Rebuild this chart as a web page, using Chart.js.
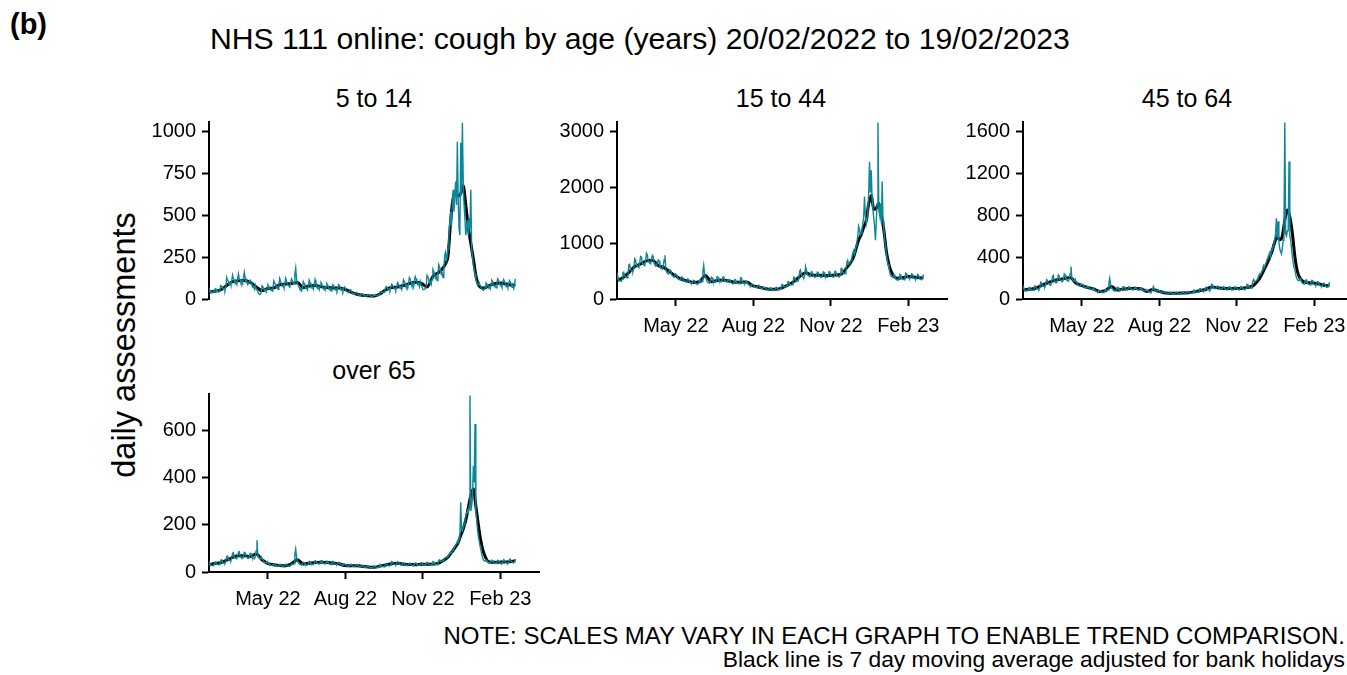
<!DOCTYPE html>
<html>
<head>
<meta charset="utf-8">
<title>NHS 111 online: cough by age</title>
<script src="https://cdn.jsdelivr.net/npm/chart.js@4.4.0/dist/chart.umd.min.js"></script>
<style>
	body { margin: 0; width: 1347px; height: 675px; overflow: hidden; background: #fff; position: relative;
		font-family: "Liberation Sans", Arial, sans-serif; color: #000; }
	.txt { position: absolute; white-space: nowrap; line-height: 1; }
	.ctr { transform: translateX(-50%); }
	canvas { position: absolute; }
</style>
</head>
<body>

<div class="txt" style="left:10px; top:10px; font-size:29px; font-weight:bold;">(b)</div>
<div class="txt" style="left:210px; top:24px; font-size:30.2px;">NHS 111 online: cough by age (years) 20/02/2022 to 19/02/2023</div>

<div class="txt ctr" style="left:374px; top:86px; font-size:25px;">5 to 14</div>
<div class="txt ctr" style="left:781px; top:86px; font-size:25px;">15 to 44</div>
<div class="txt ctr" style="left:1187px; top:86px; font-size:25px;">45 to 64</div>
<div class="txt ctr" style="left:374px; top:358px; font-size:25px;">over 65</div>

<div class="txt" style="left:124px; top:345px; font-size:32.5px; transform: translate(-50%, -50%) rotate(-90deg);">daily assessments</div>

<div class="txt" style="right:2px; top:624px; font-size:24px;">NOTE: SCALES MAY VARY IN EACH GRAPH TO ENABLE TREND COMPARISON.</div>
<div class="txt" style="right:2px; top:648px; font-size:22.8px;">Black line is 7 day moving average adjusted for bank holidays</div>

<canvas id="p1" width="420" height="217" style="left:129px; top:102px;"></canvas>
<canvas id="p2" width="420" height="237" style="left:537px; top:102px;"></canvas>
<canvas id="p3" width="420" height="237" style="left:943px; top:102px;"></canvas>
<canvas id="p4" width="420" height="238" style="left:129px; top:374px;"></canvas>

<script>
'use strict';

// x axis is days since 20/02/2022 (day 0) up to 19/02/2023 (day 364)
var monthTicks = [70, 162, 254, 346];
var monthLabels = ['May 22', 'Aug 22', 'Nov 22', 'Feb 23'];

var maDays = [0, 7, 14, 21, 28, 35, 42, 49, 56, 63, 70, 77, 84, 91, 98, 105, 112, 119, 126, 133,
	140, 147, 154, 161, 168, 175, 182, 189, 196, 203, 210, 217, 224, 231, 238, 245, 252, 259, 266, 273,
	278, 281, 284, 287, 290, 293, 296, 299, 302, 305, 308, 311, 314, 317, 320, 323, 326,
	333, 340, 347, 354, 361, 364];

// ---- 5 to 14 ----
var age5to14Daily = [
	48,52,40,44,37,38,46, 58,62,47,50,41,44,55, 80,76,70,58,62,52,74, 128,112,104,88,95,80,110,
	142,120,112,92,100,86,125, 150,118,115,96,104,90,130, 160,122,98,104,86,92,108, 112,98,86,70,74,58,82,
	60,55,45,32,26,28,40, 78,70,62,50,54,42,60, 85,76,66,54,58,48,70, 108,96,84,68,72,58,84,
	122,104,94,76,82,66,92, 124,108,92,82,76,70,98, 120,110,95,92,150,184,120, 90,84,72,60,62,50,70,
	104,92,78,62,66,54,78, 112,98,84,66,70,58,84, 115,94,80,64,70,56,80, 98,90,74,60,66,52,74,
	92,84,70,56,62,48,70, 86,80,66,54,60,48,66, 85,78,66,52,58,46,66, 72,65,48,42,40,38,48,
	55,50,37,32,30,28,36, 40,36,27,24,22,21,27, 32,28,22,19,18,17,21, 28,26,20,17,16,15,19,
	22,24,20,18,20,22,26, 40,45,40,38,40,42,48, 72,74,66,56,60,52,70, 88,84,72,60,64,54,74,
	98,90,78,64,68,56,78, 115,104,92,74,80,64,92, 128,118,102,82,90,72,104, 134,120,104,86,92,74,104,
	80,72,58,55,58,62,75, 140,130,118,96,104,88,120, 176,164,150,124,132,110,152, 205,190,172,146,154,128,180,
	260,280,230,250,300,380,450, 520,430,560,650,520,620,700, 560,936,600,420,380,930,620, 1050,700,560,480,380,420,470,
	380,480,420,650,300,250,200, 180,150,120,100,90,85,95, 80,75,60,55,52,58,70, 95,90,82,66,72,60,86,
	112,104,94,74,80,66,98, 120,110,98,80,84,70,100, 116,104,94,74,80,66,96, 110,100,88,70,76,62,92,
	120
];
var age5to14Avg = [42, 46, 55, 80, 103, 108, 110, 100, 72, 50, 62, 66, 85, 89, 92, 98, 68, 78, 80, 74,
	68, 65, 66, 58, 43, 30, 22, 19, 18, 30, 55, 68, 72, 80, 92, 100, 95, 72, 135, 158,
	185, 210, 260, 460, 600, 625, 615, 625, 675, 560, 430, 330, 240, 140, 85, 68, 65,
	80, 92, 95, 88, 83, 85];
var age5to14Ticks = [0, 250, 500, 750, 1000];

// ---- 15 to 44 ----
var age15to44Daily = [
	360,400,340,330,320,315,350, 470,480,410,400,385,380,420, 610,620,530,510,495,490,550, 720,700,610,590,570,560,640,
	760,750,650,620,605,600,680, 820,790,680,660,640,630,720, 780,760,640,610,600,590,650, 700,680,580,550,540,530,600,
	700,780,520,480,460,450,500, 520,500,430,410,400,390,430, 440,430,370,355,345,340,375, 395,385,335,320,310,305,340,
	360,350,305,290,285,280,310, 335,330,285,275,265,262,290, 330,340,300,310,480,600,450, 380,360,310,300,290,285,320,
	390,380,320,310,300,295,330, 400,390,335,320,310,305,345, 395,385,330,315,305,300,340, 350,345,295,285,275,270,300,
	350,345,295,285,275,272,305, 380,370,300,290,280,275,310, 310,300,255,245,235,230,260, 265,260,220,210,205,200,225,
	245,240,205,195,190,185,210, 210,205,178,170,165,160,180, 200,195,168,160,155,152,170, 210,205,178,170,168,170,190,
	260,255,225,215,210,215,240, 310,305,265,255,250,255,285, 390,380,335,320,315,320,360, 500,520,430,400,390,380,420,
	580,520,440,420,410,400,440, 490,480,425,405,395,390,430, 480,470,415,400,390,385,420, 485,475,415,400,390,385,420,
	490,480,420,405,395,390,425, 495,490,425,410,400,395,430, 540,550,480,460,450,455,500, 650,690,620,630,650,680,740,
	820,860,800,850,950,1020,1120, 1300,1250,1150,1180,1250,1350,1450, 1830,1500,1350,1450,1600,1900,2450, 1900,2300,1800,1600,1450,1300,1050,
	1400,1700,3150,1600,1500,1700,1350, 2100,1400,1250,1050,950,800,700, 620,560,480,430,400,390,400, 430,420,360,345,340,335,370,
	440,430,375,355,350,345,380, 460,450,395,380,370,365,400, 450,440,385,370,360,355,395, 440,430,375,360,350,345,385,
	440
];
var age15to44Avg = [330, 380, 470, 580, 625, 680, 690, 600, 560, 480, 410, 350, 320, 295, 310, 420, 310, 330, 340, 320,
	300, 300, 305, 240, 215, 190, 172, 175, 200, 250, 310, 400, 470, 430, 425, 420, 420, 430, 440, 560,
	660, 750, 900, 1050, 1150, 1280, 1400, 1700, 1850, 1600, 1620, 1710, 1500, 1230, 850, 620, 480,
	370, 385, 400, 390, 375, 380];
var age15to44Ticks = [0, 1000, 2000, 3000];

// ---- 45 to 64 ----
var age45to64Daily = [
	95,105,85,80,78,76,88, 110,112,92,88,85,82,95, 125,122,102,96,92,90,108, 160,155,130,122,118,115,138,
	185,180,150,140,135,132,160, 215,225,175,165,158,155,180, 230,220,185,175,168,165,190, 240,230,190,180,175,170,195,
	240,308,200,185,175,170,190, 165,160,135,128,124,120,140, 140,138,118,110,106,104,120, 120,118,100,94,90,88,102,
	95,92,78,74,70,68,80, 82,80,68,64,62,60,72, 85,90,80,85,150,197,140, 102,100,86,80,78,76,88,
	112,110,92,88,84,82,95, 118,115,98,92,88,86,100, 118,116,98,92,88,86,100, 115,112,95,90,86,84,98,
	105,102,88,82,80,78,90, 85,82,70,66,64,62,72, 100,118,92,84,80,78,88, 82,80,68,64,62,60,70,
	68,66,56,53,51,50,58, 64,62,53,50,48,47,54, 65,63,54,50,49,48,55, 68,66,57,53,51,50,58,
	72,70,60,57,55,54,63, 84,82,70,66,64,63,74, 100,98,84,78,75,74,88, 112,110,92,88,84,82,96,
	140,135,112,105,100,98,112, 122,120,102,96,92,90,105, 118,115,98,92,88,86,100, 118,115,98,92,88,86,100,
	118,116,98,92,88,86,100, 120,118,100,94,90,88,104, 140,138,118,110,106,104,122, 170,185,160,165,175,185,200,
	220,240,230,250,270,300,320, 300,330,350,380,400,420,440, 400,450,470,500,520,560,620, 770,580,740,540,480,450,430,
	480,560,700,1680,620,600,650, 650,1310,600,560,480,400,340, 300,280,230,200,185,175,180, 195,190,160,150,145,142,165,
	182,180,150,142,138,135,155, 178,175,146,138,133,130,150, 165,162,136,128,124,122,140, 150,148,125,118,114,112,128,
	160
];
var age45to64Avg = [86, 92, 100, 125, 150, 170, 185, 195, 205, 150, 128, 110, 95, 72, 80, 118, 86, 95, 100, 100,
	98, 72, 90, 75, 60, 54, 55, 57, 60, 68, 80, 90, 115, 108, 100, 100, 100, 100, 110, 125,
	165, 195, 240, 290, 340, 395, 460, 540, 595, 565, 600, 750, 848, 780, 625, 400, 260,
	165, 155, 150, 138, 127, 130];
var age45to64Ticks = [0, 400, 800, 1200, 1600];

// ---- over 65 ----
var over65Daily = [
	30,38,30,28,27,26,32, 42,44,35,33,32,31,36, 50,52,41,38,37,36,44, 66,68,54,50,48,47,56,
	80,82,64,60,58,56,68, 85,86,67,62,60,58,70, 84,82,66,62,59,58,68, 80,78,64,60,57,56,66,
	90,135,70,62,58,56,64, 55,53,44,41,39,38,45, 39,38,31,29,28,27,32, 35,34,28,26,25,24,29,
	33,32,26,25,24,23,27, 34,33,27,26,25,24,28, 34,35,32,35,75,97,65, 44,42,35,33,31,30,36,
	41,40,33,31,30,29,34, 45,44,36,34,32,31,37, 48,47,39,36,35,34,40, 48,48,39,37,35,34,40,
	46,45,37,35,33,32,38, 45,44,36,34,32,31,37, 41,40,33,31,30,29,34, 34,33,27,26,25,24,28,
	33,32,26,25,24,23,27, 32,31,25,24,23,22,26, 28,27,22,21,20,20,23, 24,24,20,18,18,17,20,
	26,26,21,20,19,19,22, 32,31,25,24,23,22,26, 36,35,29,27,26,26,30, 44,42,35,33,31,30,36,
	43,42,34,32,30,30,35, 39,38,31,29,28,27,32, 38,37,30,28,27,26,31, 39,38,31,29,28,27,32,
	40,39,32,30,29,28,33, 41,40,33,31,30,29,34, 44,43,35,33,31,31,37, 50,52,44,44,46,48,54,
	58,62,60,64,68,72,78, 85,80,88,95,100,108,115, 120,130,125,140,155,296,180, 175,190,200,215,240,250,260,
	250,280,750,259,280,320,450, 380,629,260,220,180,150,130, 110,95,75,60,52,48,46, 52,50,42,40,38,38,44,
	50,49,41,38,37,36,42, 50,49,41,38,37,36,42, 52,50,42,39,38,37,43, 55,54,45,42,40,39,46,
	55
];
var over65Avg = [30, 36, 40, 50, 62, 69, 69, 66, 76, 52, 36, 31, 28, 27, 35, 52, 34, 37, 40, 41,
	40, 38, 35, 28, 27, 27, 24, 21, 20, 25, 30, 35, 37, 33, 32, 31, 33, 33, 34, 38,
	48, 55, 64, 78, 92, 108, 125, 155, 182, 220, 273, 325, 352, 280, 200, 130, 85,
	42, 41, 42, 43, 46, 48];
var over65Ticks = [0, 200, 400, 600];

var TEAL = '#0b8799';
var tickFont = { family: '"Liberation Sans", Arial, sans-serif', size: 20 };

function axisGrid() {
	return { display: true, drawOnChartArea: false, drawTicks: true, tickLength: 7, tickWidth: 2, tickColor: '#000' };
}

function makePanel( id, daily, avg, yMax, yTicks, showX ) {
	var dailyPts = daily.map(function( v, i ) { return { x: i, y: v }; });
	var avgPts = maDays.map(function( d, i ) { return { x: d, y: avg[i] }; });

	return new Chart(document.getElementById(id), {
		type: 'line',
		data: {
			datasets: [
				{ data: dailyPts, borderColor: TEAL, borderWidth: 1.4, pointRadius: 0, tension: 0 },
				{ data: avgPts, borderColor: '#000', borderWidth: 3, pointRadius: 0, cubicInterpolationMode: 'monotone' }
			]
		},
		options: {
			responsive: false,
			animation: false,
			events: [],
			layout: { padding: { top: 20, right: 10, bottom: showX ? 0 : 20, left: 0 } },
			plugins: { legend: { display: false }, tooltip: { enabled: false } },
			scales: {
				x: {
					type: 'linear',
					min: 0,
					max: 392,
					display: showX,
					afterBuildTicks: function( s ) { s.ticks = monthTicks.map(function( v ) { return { value: v }; }); },
					afterFit: function( s ) { s.height = showX ? 40 : 0; },
					grid: axisGrid(),
					border: { display: true, color: '#000', width: 2 },
					ticks: {
						font: tickFont, color: '#000', padding: 8, maxRotation: 0, autoSkip: false,
						callback: function( v, i ) { return monthLabels[i]; }
					}
				},
				y: {
					type: 'linear',
					min: 0,
					max: yMax,
					afterBuildTicks: function( s ) { s.ticks = yTicks.map(function( v ) { return { value: v }; }); },
					afterFit: function( s ) { s.width = 80; },
					grid: axisGrid(),
					border: { display: true, color: '#000', width: 2 },
					ticks: {
						font: tickFont, color: '#000', padding: 6, autoSkip: false,
						callback: function( v ) { return String(v); }
					}
				}
			}
		}
	});
}

makePanel('p1', age5to14Daily, age5to14Avg, 1054, age5to14Ticks, false);
makePanel('p2', age15to44Daily, age15to44Avg, 3161, age15to44Ticks, true);
makePanel('p3', age45to64Daily, age45to64Avg, 1686, age45to64Ticks, true);
makePanel('p4', over65Daily, over65Avg, 756, over65Ticks, true);
</script>
</body>
</html>
